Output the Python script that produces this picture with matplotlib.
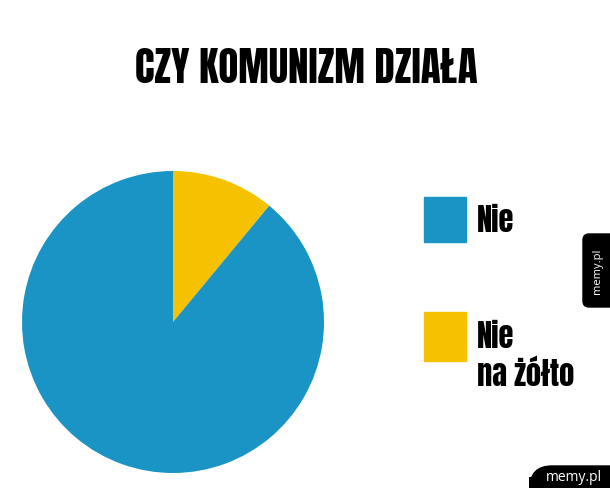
import matplotlib.pyplot as plt
from matplotlib.patches import Rectangle, FancyBboxPatch

title = 'CZY KOMUNIZM DZIAŁA'
labels = ['Nie na żółto', 'Nie']
shares = [11, 89]
colors = ['#f6c200', '#1a94c4']

W, H = 610, 489
fig = plt.figure(figsize=(W / 100, H / 100), dpi=100)
ax = fig.add_axes([0, 0, 1, 1])

def py(y):
    # pixel row -> data y
    return H - y

ax.pie(shares, colors=colors, startangle=90, counterclock=False,
       center=(173, py(323)), radius=151, frame=True,
       wedgeprops=dict(linewidth=0))
ax.set_xlim(0, W)
ax.set_ylim(0, H)
ax.set_aspect('equal')
ax.axis('off')

font = ['Anton', 'DejaVu Sans']
ax.text(306, py(83), title, ha='center', va='baseline', fontsize=29.5,
        family=font)

# legend, drawn by hand
ax.add_patch(Rectangle((424, py(243)), 42, 45, color=colors[1]))
ax.add_patch(Rectangle((424, py(362)), 42, 49, color=colors[0]))
ax.text(477, py(232), 'Nie', fontsize=22, family=font, va='baseline', ha='left')
ax.text(477, py(348), 'Nie', fontsize=22, family=font, va='baseline', ha='left')
ax.text(477, py(386), 'na żółto', fontsize=22, family=font, va='baseline', ha='left')

# watermarks
wm = ['Open Sans', 'DejaVu Sans']
ax.add_patch(FancyBboxPatch((583, py(308)), 40, 73, boxstyle='round,pad=0,rounding_size=6',
                            color='black'))
ax.text(597, py(271), 'memy.pl', rotation=90, color='white', fontsize=8,
        ha='center', va='center', family=wm)
ax.add_patch(FancyBboxPatch((530, py(500)), 110, 33, boxstyle='round,pad=0,rounding_size=22',
                            color='black'))
ax.text(574, py(478), 'memy.pl', color='white', fontsize=10,
        ha='center', va='center', family=wm)

fig.savefig('out.png', dpi=100, facecolor='white')
